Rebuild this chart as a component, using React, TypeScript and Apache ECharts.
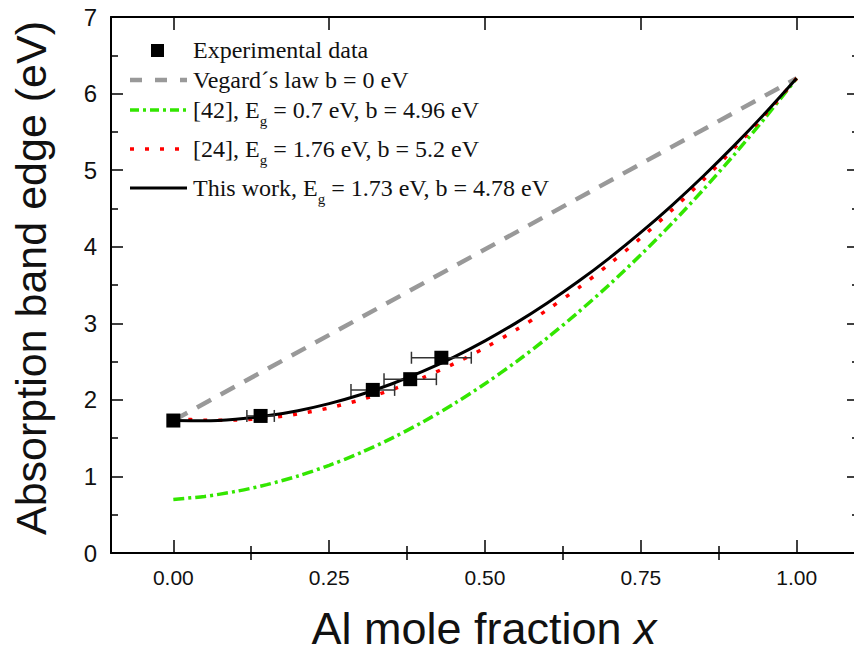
import React, { useEffect, useRef } from "react";
import * as echarts from "echarts";

const xGrid = [0, 0.05, 0.1, 0.15, 0.2, 0.25, 0.3, 0.35, 0.4, 0.45, 0.5, 0.55, 0.6, 0.65, 0.7, 0.75, 0.8, 0.85, 0.9, 0.95, 1.0];
const thisWork = [1.73, 1.727, 1.747, 1.791, 1.859, 1.951, 2.067, 2.207, 2.371, 2.558, 2.77, 3.005, 3.265, 3.548, 3.855, 4.186, 4.541, 4.92, 5.323, 5.749, 6.2];
const ref24 = [1.76, 1.735, 1.736, 1.763, 1.816, 1.895, 2.0, 2.131, 2.288, 2.471, 2.68, 2.915, 3.176, 3.463, 3.776, 4.115, 4.48, 4.871, 5.288, 5.731, 6.2];
const ref42 = [0.7, 0.739, 0.804, 0.893, 1.006, 1.145, 1.308, 1.497, 1.71, 1.947, 2.21, 2.497, 2.81, 3.147, 3.508, 3.895, 4.306, 4.743, 5.204, 5.689, 6.2];
const vegardX = [0, 1];
const vegardY = [1.73, 6.2];

// Experimental data
const expX = [0, 0.14, 0.32, 0.38, 0.43];
const expY = [1.73, 1.79, 2.13, 2.27, 2.55];
const expXErr = [0, 0.022, 0.035, 0.042, 0.048];

// Ticks
const xMajor = [0, 0.25, 0.5, 0.75, 1.0];
const xMinor = [0.125, 0.375, 0.625, 0.875];
const xTickLabels = ["0.00", "0.25", "0.50", "0.75", "1.00"];

const SANS = "'Liberation Sans', Arial, sans-serif";
const SERIF = "'Liberation Serif', 'Times New Roman', serif";

export default function App() {
  const ref = useRef<HTMLDivElement>(null);
  useEffect(() => {
    if (!ref.current) return;
    const chart = echarts.init(ref.current, null, { renderer: "svg" });
    const X_MIN = -0.1;
    const X_MAX = 1.1;
    const axisLine = { show: true, onZero: false, lineStyle: { color: "#000", width: 2 } };
    const baseX = (position: string, ticks: number[], len: number, showLine: boolean, showLabel: boolean) => ({
      type: "value",
      position,
      min: X_MIN,
      max: X_MAX,
      axisLine: showLine ? axisLine : { show: false },
      axisTick: { show: true, inside: true, length: len, customValues: ticks, lineStyle: { color: "#000", width: 1.5 } },
      axisLabel: showLabel
        ? {
            show: true,
            customValues: ticks,
            formatter: (v: number) => {
              const i = xMajor.findIndex((m) => Math.abs(m - v) < 1e-6);
              return i >= 0 ? xTickLabels[i] : "";
            },
            fontSize: 21,
            fontFamily: SANS,
            color: "#111",
            margin: 14,
          }
        : { show: false },
      splitLine: { show: false },
      minorTick: { show: false },
    });
    const baseY = (position: string, showLabel: boolean) => ({
      type: "value",
      position,
      min: 0,
      max: 7,
      interval: 1,
      axisLine,
      axisTick: { show: true, inside: true, length: 12, lineStyle: { color: "#000", width: 1.5 } },
      minorTick: { show: true, splitNumber: 2, length: 7, lineStyle: { color: "#000", width: 1.5 } },
      axisLabel: showLabel ? { show: true, fontSize: 24, fontFamily: SANS, color: "#111", margin: 14 } : { show: false },
      splitLine: { show: false },
    });

    const zip = (xs: number[], ys: number[]) => xs.map((x, i) => [x, ys[i]]);
    const legendX1 = 130;
    const legendX2 = 187;
    const textX = 193;
    const legendText = (y: number, text: string) => ({
      type: "text",
      x: textX,
      y,
      style: {
        text,
        fontSize: 24,
        fontFamily: SERIF,
        fill: "#111",
        textAlign: "left",
        textVerticalAlign: "middle",
        align: "left",
        verticalAlign: "middle",
        rich: {
          sub: { fontSize: 15, fontFamily: SERIF, lineHeight: 37, verticalAlign: "bottom", fill: "#111" },
        },
      },
    });
    const legendLine = (y: number, stroke: string, width: number, dash: number[] | null, cap = "butt") => ({
      type: "line",
      shape: { x1: legendX1, y1: y, x2: legendX2, y2: y },
      style: { stroke, lineWidth: width, lineDash: dash || undefined, lineCap: cap },
    });

    chart.setOption({
      animation: false,
      backgroundColor: "#fff",
      grid: { left: 111, top: 17, width: 748, height: 536, containLabel: false },
      xAxis: [
        baseX("bottom", xMajor, 13, true, true),
        baseX("bottom", xMinor, 7, false, false),
        baseX("top", xMajor, 13, true, false),
        baseX("top", xMinor, 7, false, false),
      ],
      yAxis: [baseY("left", true), baseY("right", false)],
      series: [
        {
          name: "Vegard´s law b = 0 eV",
          type: "line",
          data: zip(vegardX, vegardY),
          symbol: "none",
          lineStyle: { color: "#999999", width: 4.5, type: [16, 11] },
          z: 2,
        },
        {
          name: "[42]",
          type: "line",
          data: zip(xGrid, ref42),
          symbol: "none",
          smooth: 0.3,
          lineStyle: { color: "#33e600", width: 3.5, type: [11, 4, 3, 4] },
          z: 3,
        },
        {
          name: "[24]",
          type: "line",
          data: zip(xGrid, ref24),
          symbol: "none",
          smooth: 0.3,
          lineStyle: { color: "#ff0000", width: 3.5, type: [4, 11] },
          z: 3,
        },
        {
          name: "This work",
          type: "line",
          data: zip(xGrid, thisWork),
          symbol: "none",
          smooth: 0.3,
          lineStyle: { color: "#000", width: 3 },
          z: 4,
        },
        {
          name: "error",
          type: "custom",
          data: expX.map((x, i) => [x, expY[i], expXErr[i]]),
          encode: { x: 0, y: 1 },
          z: 5,
          renderItem: (params: any, api: any) => {
            const x = api.value(0);
            const y = api.value(1);
            const e = api.value(2);
            if (!e) return { type: "group", children: [] };
            const p1 = api.coord([x - e, y]);
            const p2 = api.coord([x + e, y]);
            const h = 6;
            const st = { stroke: "#333", lineWidth: 1.5 };
            return {
              type: "group",
              children: [
                { type: "line", shape: { x1: p1[0], y1: p1[1], x2: p2[0], y2: p2[1] }, style: st },
                { type: "line", shape: { x1: p1[0], y1: p1[1] - h, x2: p1[0], y2: p1[1] + h }, style: st },
                { type: "line", shape: { x1: p2[0], y1: p2[1] - h, x2: p2[0], y2: p2[1] + h }, style: st },
              ],
            };
          },
        },
        {
          name: "Experimental data",
          type: "scatter",
          data: zip(expX, expY),
          symbol: "rect",
          symbolSize: 14,
          itemStyle: { color: "#000", opacity: 1 },
          z: 10,
        },
      ],
      graphic: [
        { type: "rect", shape: { x: 151, y: 44, width: 13, height: 13 }, style: { fill: "#000" } },
        legendText(50, "Experimental data"),
        legendLine(80, "#999999", 4.5, [12, 13]),
        legendText(80, "Vegard´s law b = 0 eV"),
        legendLine(110, "#33e600", 3.5, [9, 4, 3, 4]),
        legendText(110, "[42], E{sub|g} = 0.7 eV, b = 4.96 eV"),
        legendLine(149, "#ff0000", 3.5, [4, 11]),
        legendText(149, "[24], E{sub|g} = 1.76 eV, b = 5.2 eV"),
        legendLine(188, "#000", 3, null),
        legendText(188, "This work, E{sub|g} = 1.73 eV, b = 4.78 eV"),
        {
          type: "text",
          x: 31,
          y: 278,
          rotation: Math.PI / 2,
          style: {
            text: "Absorption band edge (eV)",
            fontSize: 43,
            fontFamily: SANS,
            fill: "#111",
            textAlign: "center",
            textVerticalAlign: "middle",
            align: "center",
            verticalAlign: "middle",
          },
        },
        {
          type: "text",
          x: 484,
          y: 628,
          style: {
            text: "Al mole fraction {i|x}",
            fontSize: 45,
            fontFamily: SANS,
            fill: "#111",
            textAlign: "center",
            textVerticalAlign: "middle",
            align: "center",
            verticalAlign: "middle",
            rich: { i: { fontSize: 45, fontFamily: SANS, fontStyle: "italic", fill: "#111" } },
          },
        },
      ],
    });
    return () => chart.dispose();
  }, []);

  return (
    <div style={{ position: "fixed", left: 0, top: 0, width: 854, height: 655, overflow: "hidden", background: "#fff" }}>
      <div ref={ref} style={{ width: 860, height: 655 }} />
    </div>
  );
}
